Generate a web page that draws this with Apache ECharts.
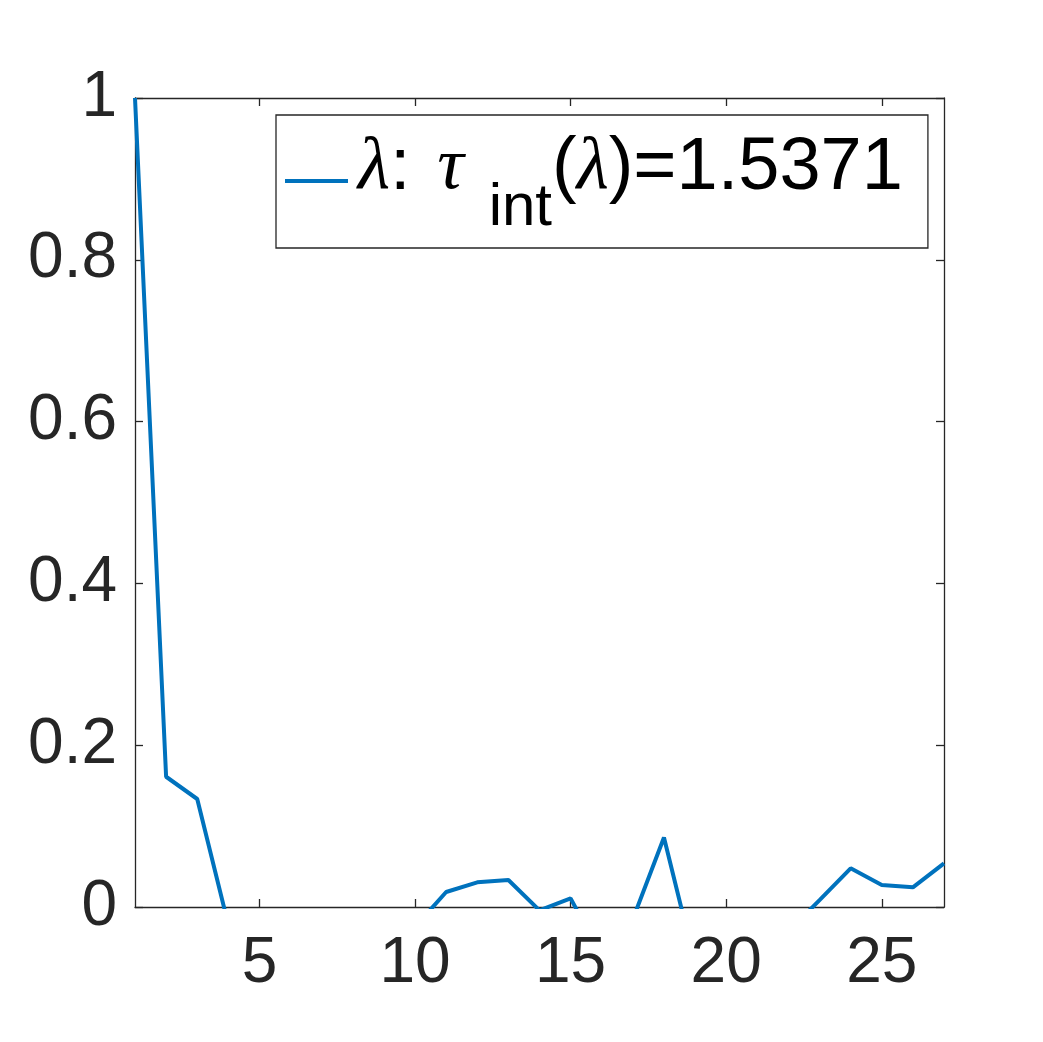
<!DOCTYPE html>
<html>
<head>
<meta charset="utf-8">
<script src="https://cdn.jsdelivr.net/npm/echarts@6/dist/echarts.min.js"></script>
<style>
  html, body { margin: 0; padding: 0; background: #fff; }
  #chart_main { width: 1043px; height: 1042px; }
</style>
</head>
<body>
<div id="chart_main"></div>
<script>
// lag index and autocorrelation values (below zero is clipped by the axes)
const lags = [1, 2, 3, 4, 5, 6, 7, 8, 9, 10, 11, 12, 13, 14, 15, 16, 17, 18, 19, 20, 21, 22, 23, 24, 25, 26, 27];
const acf = [1.0, 0.161, 0.1335, -0.022, -0.04, -0.05, -0.03, -0.045, -0.035, -0.0245, 0.0185, 0.0305, 0.0334, -0.0042, 0.0107, -0.061, -0.015, 0.086, -0.07, -0.05, -0.04, -0.0304, 0.0086, 0.0478, 0.0272, 0.0243, 0.054];
const xTicks = [5, 10, 15, 20, 25];
const seriesName = "λ";
const tauInt = "1.5371";

const axisColor = "#262626";
const lineColor = "#0072BD";
const labelFont = "Liberation Sans";

const myChart = echarts.init(document.getElementById("chart_main"));

const points = lags.map((x, i) => [x, acf[i]]);

const baseAxis = {
  axisLine: { show: true, onZero: false, lineStyle: { color: axisColor, width: 1.3 } },
  axisTick: { show: true, inside: true, length: 8, lineStyle: { color: axisColor, width: 1.3 } },
  splitLine: { show: false }
};

// legend rich text: all tokens top aligned, vertical offset via top padding
const LH = 114;
const mainTok = (extra) => Object.assign({
  fontFamily: labelFont, fontSize: 74, lineHeight: LH, verticalAlign: "top", color: "#000", padding: [8, 0, 0, 0]
}, extra || {});

myChart.setOption({
  backgroundColor: "#ffffff",
  animation: false,
  grid: { left: 135, top: 98, right: 99, bottom: 135 },
  xAxis: [
    Object.assign({}, baseAxis, {
      type: "value",
      position: "bottom",
      min: 1,
      max: 27,
      axisTick: Object.assign({}, baseAxis.axisTick, { customValues: xTicks }),
      axisLabel: {
        customValues: xTicks,
        color: axisColor,
        fontFamily: labelFont,
        fontSize: 64,
        margin: 25
      }
    }),
    Object.assign({}, baseAxis, {
      type: "value",
      position: "top",
      min: 1,
      max: 27,
      axisTick: Object.assign({}, baseAxis.axisTick, { customValues: xTicks }),
      axisLabel: { show: false }
    })
  ],
  yAxis: [
    Object.assign({}, baseAxis, {
      type: "value",
      position: "left",
      min: 0,
      max: 1,
      interval: 0.2,
      axisLabel: {
        color: axisColor,
        fontFamily: labelFont,
        fontSize: 64,
        margin: 18
      }
    }),
    Object.assign({}, baseAxis, {
      type: "value",
      position: "right",
      min: 0,
      max: 1,
      interval: 0.2,
      axisLabel: { show: false }
    })
  ],
  legend: {
    left: 276,
    top: 115,
    orient: "vertical",
    backgroundColor: "#ffffff",
    borderColor: axisColor,
    borderWidth: 1.3,
    borderRadius: 0,
    padding: [9, 25, 10, 9],
    icon: "rect",
    itemWidth: 63,
    itemHeight: 4,
    data: [seriesName],
    formatter: function () {
      return "{lam0|λ}{n|: }{tau|τ}{sub|int}{n|(}{lam|λ}{n|)=" + tauInt + "}";
    },
    textStyle: {
      color: "#000000",
      lineHeight: LH,
      rich: {
        n: mainTok(),
        lam0: mainTok({ fontFamily: "Liberation Serif", fontStyle: "italic", padding: [8, 0, 0, 5] }),
        lam: mainTok({ fontFamily: "Liberation Serif", fontStyle: "italic" }),
        tau: mainTok({ fontFamily: "Liberation Serif", fontStyle: "italic", padding: [8, 0, 0, 6] }),
        sub: { fontFamily: labelFont, fontSize: 60, lineHeight: LH, verticalAlign: "top", color: "#000", padding: [54, 0, 0, 25] }
      }
    }
  },
  series: [
    {
      name: seriesName,
      type: "line",
      xAxisIndex: 0,
      yAxisIndex: 0,
      data: points,
      showSymbol: false,
      symbol: "none",
      clip: true,
      color: lineColor,
      lineStyle: { color: lineColor, width: 4 }
    }
  ]
});
</script>
</body>
</html>
